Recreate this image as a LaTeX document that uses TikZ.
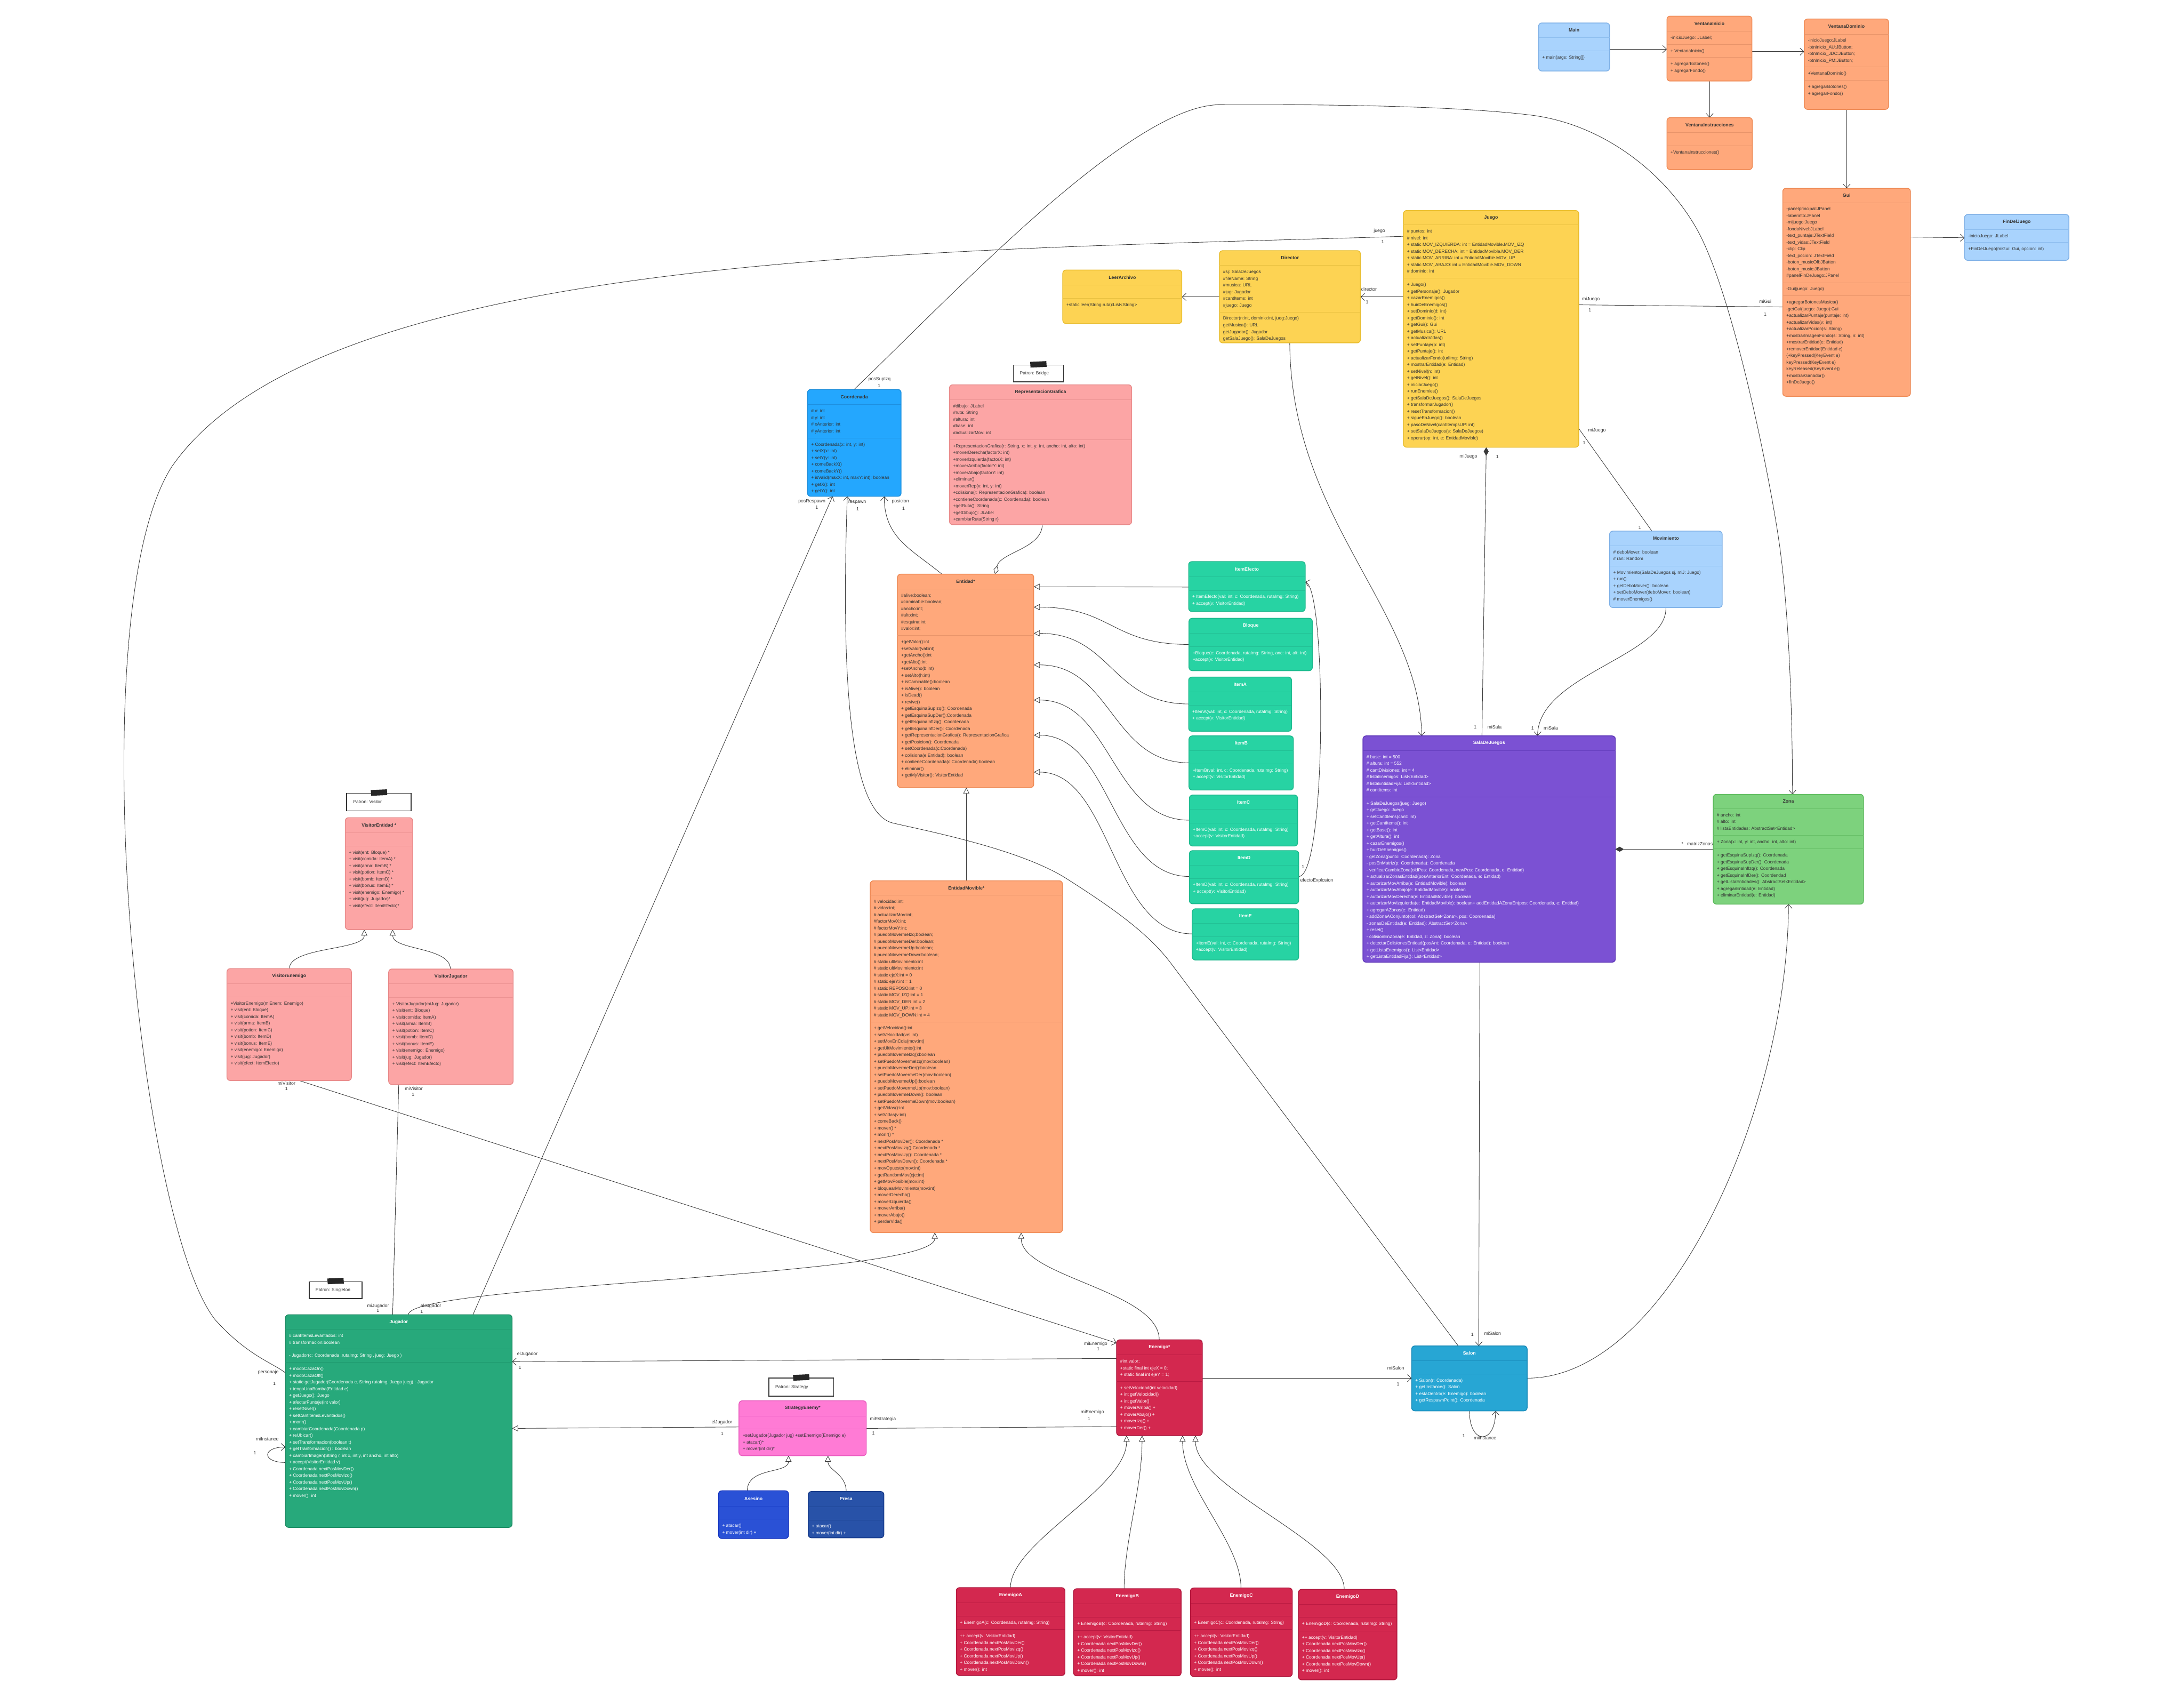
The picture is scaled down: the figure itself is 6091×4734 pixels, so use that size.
\documentclass[tikz,border=0pt]{standalone}
\usepackage{fontspec}
\setmainfont{Liberation Sans}
\usetikzlibrary{arrows.meta}
\definecolor{txtdark}{HTML}{333333}
\definecolor{lineC}{HTML}{3A3A3A}
\definecolor{lbF}{HTML}{A9D3FD}\definecolor{lbD}{HTML}{7EB0E6}\definecolor{lbS}{HTML}{8DBDEE}
\definecolor{orF}{HTML}{FFA87B}\definecolor{orD}{HTML}{EE8A55}\definecolor{orS}{HTML}{E8946A}
\definecolor{yeF}{HTML}{FDD353}\definecolor{yeD}{HTML}{E9BD2E}\definecolor{yeS}{HTML}{E8C040}
\definecolor{coF}{HTML}{24A7FE}\definecolor{coD}{HTML}{1D8FDC}\definecolor{coS}{HTML}{1E90E0}
\definecolor{piF}{HTML}{FCA5A5}\definecolor{piD}{HTML}{E88A8A}\definecolor{piS}{HTML}{EC9393}
\definecolor{grF}{HTML}{27D3A3}\definecolor{grD}{HTML}{1DB98D}\definecolor{grS}{HTML}{22C095}
\definecolor{puF}{HTML}{7B51D3}\definecolor{puD}{HTML}{5E36B8}\definecolor{puS}{HTML}{6740C0}
\definecolor{zoF}{HTML}{7DD27D}\definecolor{zoD}{HTML}{5DBA5D}\definecolor{zoS}{HTML}{67C067}
\definecolor{juF}{HTML}{27A97B}\definecolor{juD}{HTML}{1D8C64}\definecolor{juS}{HTML}{1F9A6E}
\definecolor{enF}{HTML}{D3284F}\definecolor{enD}{HTML}{B0163C}\definecolor{enS}{HTML}{BA1A42}
\definecolor{stF}{HTML}{FF7BD5}\definecolor{stD}{HTML}{E95DBF}\definecolor{stS}{HTML}{EE66C6}
\definecolor{asF}{HTML}{2A51D6}\definecolor{asD}{HTML}{1434C0}\definecolor{asS}{HTML}{1F44CC}
\definecolor{prF}{HTML}{2852A8}\definecolor{prD}{HTML}{173A88}\definecolor{prS}{HTML}{1D4493}
\definecolor{saF}{HTML}{27A6D4}\definecolor{saD}{HTML}{1689B8}\definecolor{saS}{HTML}{1C90C0}
\definecolor{noteD}{HTML}{333333}
\pgfdeclarelayer{bg}
\pgfdeclarelayer{paper}
\pgfsetlayers{paper,bg,main}
\tikzset{
  every node/.style={font=\fontsize{12.5}{18.6}\selectfont, text=txtdark},
  box/.style={rounded corners=9, line width=2.2, outer sep=0, inner sep=0},
  bLb/.style={box, fill=lbF, draw=lbD}, sLb/.style={draw=lbS, line width=1.1},
  bOr/.style={box, fill=orF, draw=orD}, sOr/.style={draw=orS, line width=1.1},
  bYe/.style={box, fill=yeF, draw=yeD}, sYe/.style={draw=yeS, line width=1.1},
  bCo/.style={box, fill=coF, draw=coD}, sCo/.style={draw=coS, line width=1.1},
  bPi/.style={box, fill=piF, draw=piD}, sPi/.style={draw=piS, line width=1.1},
  bGr/.style={box, fill=grF, draw=grD}, sGr/.style={draw=grS, line width=1.1},
  bPu/.style={box, fill=puF, draw=puD}, sPu/.style={draw=puS, line width=1.1},
  bZo/.style={box, fill=zoF, draw=zoD}, sZo/.style={draw=zoS, line width=1.1},
  bJu/.style={box, fill=juF, draw=juD}, sJu/.style={draw=juS, line width=1.1},
  bEn/.style={box, fill=enF, draw=enD}, sEn/.style={draw=enS, line width=1.1},
  bSt/.style={box, fill=stF, draw=stD}, sSt/.style={draw=stS, line width=1.1},
  bAs/.style={box, fill=asF, draw=asD}, sAs/.style={draw=asS, line width=1.1},
  bPr/.style={box, fill=prF, draw=prD}, sPr/.style={draw=prS, line width=1.1},
  bSa/.style={box, fill=saF, draw=saD}, sSa/.style={draw=saS, line width=1.1},
  conn/.style={draw=lineC, line width=1.3},
  oa/.style={-{Straight Barb[length=11,width=20,line width=1.3]}},
  oas/.style={{Straight Barb[length=11,width=20,line width=1.3]}-},
  tri/.style={-{Triangle[open,fill=white,length=17,width=17,line width=1.3]}},
  agg/.style={{Diamond[open,fill=white,length=24,width=14,line width=1.3]}-},
  comp/.style={{Diamond[length=24,width=14]}-},
  lbl/.style={font=\fontsize{13}{15}\selectfont, text=txtdark, inner sep=0},
  notebox/.style={draw=noteD, line width=2.5, fill=white, outer sep=0, inner sep=0},
}
\newcommand{\UC}[6]{\node[#6, minimum width={#4-#2}, minimum height={#5-#3}] (#1) at ({(#2+#4)/2},{(#3+#5)/2}) {};}
\newcommand{\US}[4]{\draw[#4] (#1,#3) -- (#2,#3);}
\newcommand{\UT}[6]{\node[font=\fontsize{13}{15}\selectfont\bfseries, text=#6, inner sep=0] at ({(#1+#2)/2},{(#3+#4)/2}) {#5};}
\newcommand{\UL}[4]{\node[anchor=north west, inner sep=0, align=left, text=#3] at ({#1+10},{#2+9}) {\strut #4};}
\newcommand{\NOTE}[6]{% id x1 y1 x2 y2 text
  \node[notebox, minimum width={#4-#2}, minimum height={#5-#3}] (#1) at ({(#2+#4)/2},{(#3+#5)/2}) {};
  \fill[black!85] ({(#2+#4)/2-23},{#3-9}) -- ({(#2+#4)/2+22},{#3-11}) -- ({(#2+#4)/2+23},{#3+5}) -- ({(#2+#4)/2-22},{#3+7}) -- cycle;
  \node[anchor=west, inner sep=0] at ({#2+18},{(#3+#5)/2}) {#6};}
\begin{document}
\begin{tikzpicture}[x=1pt,y=-1pt]
\useasboundingbox (0,0) rectangle (6091,4734);
\begin{pgfonlayer}{paper}
\fill[white] (0,0) rectangle (6091,4734);
\end{pgfonlayer}

% ---------------- Main
\UC{main}{4291}{64}{4489}{198}{bLb}
\US{4291}{4489}{105}{sLb}\US{4291}{4489}{142}{sLb}
\UT{4291}{4489}{64}{105}{Main}{txtdark}
\UL{4291}{142}{txtdark}{+ main(args: String[])}

% ---------------- VentanaInicio
\UC{vi}{4649}{45}{4886}{226}{bOr}
\US{4649}{4886}{87}{sOr}\US{4649}{4886}{124}{sOr}\US{4649}{4886}{160}{sOr}
\UT{4649}{4886}{45}{87}{VentanaInicio}{txtdark}
\UL{4649}{87}{txtdark}{-inicioJuego: JLabel;}
\UL{4649}{124}{txtdark}{+ VentanaInicio()}
\UL{4649}{160}{txtdark}{+ agregarBotones()\\+ agregarFondo()}

% ---------------- VentanaDominio
\UC{vd}{5032}{53}{5267}{305}{bOr}
\US{5032}{5267}{95}{sOr}\US{5032}{5267}{187}{sOr}\US{5032}{5267}{224}{sOr}
\UT{5032}{5267}{53}{95}{VentanaDominio}{txtdark}
\UL{5032}{95}{txtdark}{-inicioJuego:JLabel\\-btnInicio\_AU:JButton;\\-btnInicio\_JDC:JButton;\\-btnInicio\_PM:JButton;}
\UL{5032}{187}{txtdark}{+VentanaDominio()}
\UL{5032}{224}{txtdark}{+ agregarBotones()\\+ agregarFondo()}

% ---------------- VentanaInstrucciones
\UC{vins}{4649}{328}{4887}{473}{bOr}
\US{4649}{4887}{370}{sOr}\US{4649}{4887}{407}{sOr}
\UT{4649}{4887}{328}{370}{VentanaInstrucciones}{txtdark}
\UL{4649}{407}{txtdark}{+VentanaInstrucciones()}

% ---------------- Gui
\UC{gui}{4972}{525}{5328}{1105}{bOr}
\US{4972}{5328}{565}{sOr}\US{4972}{5328}{788}{sOr}\US{4972}{5328}{825}{sOr}
\UT{4972}{5328}{525}{565}{Gui}{txtdark}
\UL{4972}{565}{txtdark}{-panelprincipal:JPanel\\-laberinto:JPanel\\-mijuego:Juego\\-fondoNivel:JLabel\\-text\_puntaje:JTextField\\-text\_vidas:JTextField\\-clip: Clip\\-text\_pocion: JTextField\\-boton\_musicOff:JButton\\-boton\_music:JButton\\\#panelFinDeJuego:JPanel}
\UL{4972}{788}{txtdark}{-Gui(juego: Juego)}
\UL{4972}{825}{txtdark}{+agregarBotonesMusica()\\-getGui(juego: Juego):Gui\\+actualizarPuntaje(puntaje: int)\\+actualizarVidas(v: int)\\+actualizarPocion(s: String)\\+mostrarImagenFondo(s: String, n: int)\\+mostrarEntidad(e: Entidad)\\+removerEntidad(Entidad e)\\\{+keyPressed(KeyEvent e)\\keyPressed(KeyEvent e)\\keyReleased(KeyEvent e)\}\\+mostrarGanador()\\+finDeJuego()}

% ---------------- FinDelJuego
\UC{fin}{5479}{598}{5770}{726}{bLb}
\US{5479}{5770}{640}{sLb}\US{5479}{5770}{676}{sLb}
\UT{5479}{5770}{598}{640}{FinDelJuego}{txtdark}
\UL{5479}{640}{txtdark}{-inicioJuego: JLabel}
\UL{5479}{676}{txtdark}{+FinDelJuego(miGui: Gui, opcion: int)}

% ---------------- Juego
\UC{juego}{3914}{587}{4403}{1247}{bYe}
\US{3914}{4403}{627}{sYe}\US{3914}{4403}{776}{sYe}
\UT{3914}{4403}{587}{627}{Juego}{txtdark}
\UL{3914}{627}{txtdark}{\# puntos: int\\\# nivel: int\\+ static MOV\_IZQUIERDA: int = EntidadMovible.MOV\_IZQ\\+ static MOV\_DERECHA: int = EntidadMovible.MOV\_DER\\+ static MOV\_ARRIBA: int = EntidadMovible.MOV\_UP\\+ static MOV\_ABAJO: int = EntidadMovible.MOV\_DOWN\\\# dominio: int}
\UL{3914}{776}{txtdark}{+ Juego()\\+ getPersonaje(): Jugador\\+ cazarEnemigos()\\+ huirDeEnemigos()\\+ setDominio(d: int)\\+ getDominio(): int\\+ getGui(): Gui\\+ getMusica(): URL\\+ actualizoVidas()\\+ setPuntaje(p: int)\\+ getPuntaje(): int\\+ actualizarFondo(urlImg: String)\\+ mostrarEntidad(e: Entidad)\\+ setNivel(n: int)\\+ getNivel(): int\\+ iniciarJuego()\\+ runEnemies()\\+ getSalaDeJuegos(): SalaDeJuegos\\+ transformarJugador()\\+ resetTransformacion()\\+ sigueEnJuego(): boolean\\+ pasoDeNivel(cantItempsUP: int)\\+ setSalaDeJuegos(s: SalaDeJuegos)\\+ operar(op: int, e: EntidadMovible)}

% ---------------- Director
\UC{director}{3401}{699}{3794}{956}{bYe}
\US{3401}{3794}{740}{sYe}\US{3401}{3794}{870}{sYe}
\UT{3401}{3794}{699}{740}{Director}{txtdark}
\UL{3401}{740}{txtdark}{\#sj: SalaDeJuegos\\\#fileName: String\\\#musica: URL\\\#jug: Jugador\\\#cantItems: int\\\#juego: Juego}
\UL{3401}{870}{txtdark}{Director(n:int, dominio:int, jueg:Juego)\\getMusica(): URL\\getJugador(): Jugador\\getSalaJuego(): SalaDeJuegos}

% ---------------- LeerArchivo
\UC{leer}{2964}{753}{3296}{902}{bYe}
\US{2964}{3296}{795}{sYe}\US{2964}{3296}{832}{sYe}
\UT{2964}{3296}{753}{795}{LeerArchivo}{txtdark}
\UL{2964}{832}{txtdark}{+static leer(String ruta):List<String>}

% ---------------- Coordenada
\UC{coord}{2252}{1086}{2513}{1384}{bCo}
\US{2252}{2513}{1128}{sCo}\US{2252}{2513}{1221}{sCo}
\UT{2252}{2513}{1086}{1128}{Coordenada}{txtdark}
\UL{2252}{1128}{txtdark}{\# x: int\\\# y: int\\\# xAnterior: int\\\# yAnterior: int}
\UL{2252}{1221}{txtdark}{+ Coordenada(x: int, y: int)\\+ setX(x: int)\\+ setY(y: int)\\+ comeBackX()\\+ comeBackY()\\+ isValid(maxX: int, maxY: int): boolean\\+ getX(): int\\+ getY(): int}

% ---------------- RepresentacionGrafica
\UC{rep}{2648}{1073}{3156}{1463}{bPi}
\US{2648}{3156}{1114}{sPi}\US{2648}{3156}{1226}{sPi}
\UT{2648}{3156}{1073}{1114}{RepresentacionGrafica}{txtdark}
\UL{2648}{1114}{txtdark}{\#dibujo: JLabel\\\#ruta: String\\\#altura: int\\\#base: int\\\#actualizarMov: int}
\UL{2648}{1226}{txtdark}{+RepresentacionGrafica(r: String, x: int, y: int, ancho: int, alto: int)\\+moverDerecha(factorX: int)\\+moverIzquierda(factorX: int)\\+moverArriba(factorY: int)\\+moverAbajo(factorY: int)\\+eliminar()\\+moverRep(x: int, y: int)\\+colisiona(r: RepresentacionGrafica): boolean\\+contieneCoordenada(c: Coordenada): boolean\\+getRuta(): String\\+getDibujo(): JLabel\\+cambiarRuta(String r)}
\NOTE{nbridge}{2826}{1018}{2966}{1065}{Patron: Bridge}

% ---------------- Entidad
\UC{entidad}{2503}{1601}{2883}{2196}{bOr}
\US{2503}{2883}{1642}{sOr}\US{2503}{2883}{1772}{sOr}
\UT{2503}{2883}{1601}{1642}{Entidad*}{txtdark}
\UL{2503}{1642}{txtdark}{\#alive:boolean;\\\#caminable:boolean;\\\#ancho:int;\\\#alto:int;\\\#esquina:int;\\\#valor:int;}
\UL{2503}{1772}{txtdark}{+getValor():int\\+setValor(val:int)\\+getAncho():int\\+getAlto():int\\+setAncho(b:int)\\+ setAlto(h:int)\\+ isCaminable():boolean\\+ isAlive(): boolean\\+ isDead()\\+ revive()\\+ getEsquinaSupIzq(): Coordenada\\+ getEsquinaSupDer():Coordenada\\+ getEsquinaInfIzq(): Coordenada\\+ getEsquinaInfDer(): Coordenada\\+ getRepresentacionGrafica(): RepresentacionGrafica\\+ getPosicion(): Coordenada\\+ setCoordenada(c:Coordenada)\\+ colisiona(e:Entidad): boolean\\+ contieneCoordenada(c:Coordenada):boolean\\+ eliminar()\\+ getMyVisitor(): VisitorEntidad}

% ---------------- Items
\UC{itemEf}{3315}{1566}{3640}{1705}{bGr}
\US{3315}{3640}{1608}{sGr}\US{3315}{3640}{1646}{sGr}
\UT{3315}{3640}{1566}{1608}{ItemEfecto}{white}
\UL{3315}{1646}{white}{+ ItemEfecto(val: int, c: Coordenada, rutaImg: String)\\+ accept(v: VisitorEntidad)}

\UC{bloque}{3316}{1724}{3660}{1870}{bGr}
\US{3316}{3660}{1765}{sGr}\US{3316}{3660}{1803}{sGr}
\UT{3316}{3660}{1724}{1765}{Bloque}{white}
\UL{3316}{1803}{white}{+Bloque(c: Coordenada, rutaImg: String, anc: int, alt: int)\\+accept(v: VisitorEntidad)}

\UC{itemA}{3315}{1888}{3602}{2039}{bGr}
\US{3315}{3602}{1929}{sGr}\US{3315}{3602}{1966}{sGr}
\UT{3315}{3602}{1888}{1929}{ItemA}{white}
\UL{3315}{1966}{white}{+ItemA(val: int, c: Coordenada, rutaImg: String)\\+ accept(v: VisitorEntidad)}

\UC{itemB}{3316}{2052}{3607}{2203}{bGr}
\US{3316}{3607}{2093}{sGr}\US{3316}{3607}{2130}{sGr}
\UT{3316}{3607}{2052}{2093}{ItemB}{white}
\UL{3316}{2130}{white}{+ItemB(val: int, c: Coordenada, rutaImg: String)\\+ accept(v: VisitorEntidad)}

\UC{itemC}{3317}{2217}{3619}{2359}{bGr}
\US{3317}{3619}{2257}{sGr}\US{3317}{3619}{2295}{sGr}
\UT{3317}{3619}{2217}{2257}{ItemC}{white}
\UL{3317}{2295}{white}{+ItemC(val: int, c: Coordenada, rutaImg: String)\\+accept(v: VisitorEntidad)}

\UC{itemD}{3317}{2372}{3622}{2520}{bGr}
\US{3317}{3622}{2412}{sGr}\US{3317}{3622}{2449}{sGr}
\UT{3317}{3622}{2372}{2412}{ItemD}{white}
\UL{3317}{2449}{white}{+ItemD(val: int, c: Coordenada, rutaImg: String)\\+ accept(v: VisitorEntidad)}

\UC{itemE}{3325}{2534}{3622}{2677}{bGr}
\US{3325}{3622}{2575}{sGr}\US{3325}{3622}{2612}{sGr}
\UT{3325}{3622}{2534}{2575}{ItemE}{white}
\UL{3325}{2612}{white}{+ItemE(val: int, c: Coordenada, rutaImg: String)\\+accept(v: VisitorEntidad)}

% ---------------- EntidadMovible
\UC{entMov}{2427}{2456}{2963}{3437}{bOr}
\US{2427}{2963}{2496}{sOr}\US{2427}{2963}{2849}{sOr}
\UT{2427}{2963}{2456}{2496}{EntidadMovible*}{txtdark}
\UL{2427}{2496}{txtdark}{\# velocidad:int;\\\# vidas:int;\\\# actualizarMov:int;\\\#factorMovX:int;\\\# factorMovY:int;\\\# puedoMovermeIzq:boolean;\\\# puedoMovermeDer:boolean;\\\# puedoMovermeUp:boolean;\\\# puedoMovermeDown:boolean;\\\# static ultMovimiento:int\\\# static ultMovimiento:int\\\# static ejeX:int = 0\\\# static ejeY:int = 1\\\# static REPOSO:int = 0\\\# static MOV\_IZQ:int = 1\\\# static MOV\_DER:int = 2\\\# static MOV\_UP:int = 3\\\# static MOV\_DOWN:int = 4}
\UL{2427}{2849}{txtdark}{+ getVelocidad():int\\+ setVelocidad(vel:int)\\+ setMovEnCola(mov:int)\\+ getUltMovimiento():int\\+ puedoMovermeIzq():boolean\\+ setPuedoMovermeIzq(mov:boolean)\\+ puedoMovermeDer():boolean\\+ setPuedoMovermeDer(mov:boolean)\\+ puedoMovermeUp():boolean\\+ setPuedoMovermeUp(mov:boolean)\\+ puedoMovermeDown(): boolean\\+ setPuedoMovermeDown(mov:boolean)\\+ getVidas():int\\+ setVidas(v:int)\\+ comeBack()\\+ mover() *\\+ morir() *\\+ nextPosMovDer(): Coordenada *\\+ nextPosMovIzq():Coordenada *\\+ nextPosMovUp(): Coordenada *\\+ nextPosMovDown(): Coordenada *\\+ movOpuesto(mov:int)\\+ getRandomMov(eje:int)\\+ getMovPosible(mov:int)\\+ bloquearMovimiento(mov:int)\\+ moverDerecha()\\+ moverIzquierda()\\+ moverArriba()\\+ moverAbajo()\\+ perderVida()}

% ---------------- SalaDeJuegos
\UC{sala}{3801}{2052}{4505}{2683}{bPu}
\US{3801}{4505}{2093}{sPu}\US{3801}{4505}{2222}{sPu}
\UT{3801}{4505}{2052}{2093}{SalaDeJuegos}{white}
\UL{3801}{2093}{white}{\# base: int = 500\\\# altura: int = 552\\\# cantDivisiones: int = 4\\\# listaEnemigos: List<Entidad>\\\# listaEntidadFija: List<Entidad>\\\# cantItems: int}
\UL{3801}{2222}{white}{+ SalaDeJuegos(jueg: Juego)\\+ getJuego: Juego\\+ setCantItems(cant: int)\\+ getCantItems(): int\\+ getBase(): int\\+ getAltura(): int\\+ cazarEnemigos()\\+ huirDeEnemigos()\\- getZona(punto: Coordenada): Zona\\- posEnMatriz(p: Coordenada): Coordenada\\- verificarCambioZona(oldPos: Coordenada, newPos: Coordenada, e: Entidad)\\+ actualizarZonasEntidad(posAnteriorEnt: Coordenada, e: Entidad)\\+ autorizarMovArriba(e: EntidadMovible): boolean\\+ autorizarMovAbajo(e: EntidadMovible): boolean\\+ autorizarMovDerecha(e: EntidadMovible): boolean\\+ autorizarMovIzquierda(e: EntidadMovible): boolean+ addEntidadAZonaEn(pos: Coordenada, e: Entidad)\\+ agregarAZonas(e: Entidad)\\- addZonaAConjunto(col: AbstractSet<Zona>, pos: Coordenada)\\- zonasDeEntidad(e: Entidad): AbstractSet<Zona>\\+ reset()\\- colisionEnZona(e: Entidad, z: Zona): boolean\\+ detectarColisionesEntidad(posAnt: Coordenada, e: Entidad): boolean\\+ getListaEnemigos(): List<Entidad>\\+ getListaEntidadFija(): List<Entidad>}

% ---------------- Movimiento
\UC{mov}{4489}{1481}{4803}{1694}{bLb}
\US{4489}{4803}{1522}{sLb}\US{4489}{4803}{1578}{sLb}
\UT{4489}{4803}{1481}{1522}{Movimiento}{txtdark}
\UL{4489}{1522}{txtdark}{\# deboMover: boolean\\\# ran: Random}
\UL{4489}{1578}{txtdark}{+ Movimiento(SalaDeJuegos sj, miJ: Juego)\\+ run()\\+ getDeboMover(): boolean\\+ setDeboMover(deboMover: boolean)\\\# moverEnemigos()}

% ---------------- Zona
\UC{zona}{4778}{2215}{5197}{2521}{bZo}
\US{4778}{5197}{2255}{sZo}\US{4778}{5197}{2329}{sZo}\US{4778}{5197}{2367}{sZo}
\UT{4778}{5197}{2215}{2255}{Zona}{txtdark}
\UL{4778}{2255}{txtdark}{\# ancho: int\\\# alto: int\\\# listaEntidades: AbstractSet<Entidad>}
\UL{4778}{2329}{txtdark}{+ Zona(x: int, y: int, ancho: int, alto: int)}
\UL{4778}{2367}{txtdark}{+ getEsquinaSupIzq(): Coordenada\\+ getEsquinaSupDer(): Coordenada\\+ getEsquinaInfIzq(): Coordenada\\+ getEsquinaInfDer(): Coordendad\\+ getListaEntidades(): AbstractSet<Entidad>\\+ agregarEntidad(e: Entidad)\\+ eliminarEntidad(e: Entidad)}

% ---------------- Visitors
\NOTE{nvisitor}{967}{2212}{1147}{2261}{Patron: Visitor}
\UC{vEnt}{963}{2280}{1151}{2592}{bPi}
\US{963}{1151}{2322}{sPi}\US{963}{1151}{2359}{sPi}
\UT{963}{1151}{2280}{2322}{VisitorEntidad *}{txtdark}
\UL{963}{2359}{txtdark}{+ visit(ent: Bloque) *\\+ visit(comida: ItemA) *\\+ visit(arma: ItemB) *\\+ visit(potion: ItemC) *\\+ visit(bomb: ItemD) *\\+ visit(bonus: ItemE) *\\+ visit(enemigo: Enemigo) *\\+ visit(jug: Jugador)*\\+ visit(efect: ItemEfecto)*}

\UC{vEn}{633}{2701}{980}{3013}{bPi}
\US{633}{980}{2742}{sPi}\US{633}{980}{2780}{sPi}
\UT{633}{980}{2701}{2742}{VisitorEnemigo}{txtdark}
\UL{633}{2780}{txtdark}{+VisitorEnemigo(miEnem: Enemigo)\\+ visit(ent: Bloque)\\+ visit(comida: ItemA)\\+ visit(arma: ItemB)\\+ visit(potion: ItemC)\\+ visit(bomb: ItemD)\\+ visit(bonus: ItemE)\\+ visit(enemigo: Enemigo)\\+ visit(jug: Jugador)\\+ visit(efect: ItemEfecto)}

\UC{vJu}{1084}{2702}{1431}{3024}{bPi}
\US{1084}{1431}{2743}{sPi}\US{1084}{1431}{2781}{sPi}
\UT{1084}{1431}{2702}{2743}{VisitorJugador}{txtdark}
\UL{1084}{2781}{txtdark}{+ VisitorJugador(miJug: Jugador)\\+ visit(ent: Bloque)\\+ visit(comida: ItemA)\\+ visit(arma: ItemB)\\+ visit(potion: ItemC)\\+ visit(bomb: ItemD)\\+ visit(bonus: ItemE)\\+ visit(enemigo: Enemigo)\\+ visit(jug: Jugador)\\+ visit(efect: ItemEfecto)}

% ---------------- Jugador
\NOTE{nsingle}{862}{3574}{1010}{3621}{Patron: Singleton}
\UC{jugador}{796}{3666}{1428}{4259}{bJu}
\US{796}{1428}{3707}{sJu}\US{796}{1428}{3762}{sJu}\US{796}{1428}{3799}{sJu}
\UT{796}{1428}{3666}{3707}{Jugador}{white}
\UL{796}{3707}{white}{\# cantItemsLevantados: int\\\# transformacion:boolean}
\UL{796}{3762}{white}{- Jugador(c: Coordenada ,rutaImg: String , jueg: Juego )}
\UL{796}{3799}{white}{+ modoCazaOn()\\+ modoCazaOff()\\+ static getJugador(Coordenada c, String rutaImg, Juego jueg) : Jugador\\+ tengoUnaBomba(Entidad e)\\+ getJuego(): Juego\\+ afectarPuntaje(int valor)\\+ resetNivel()\\+ setCantItemsLevantados()\\+ morir()\\+ cambiarCoordenada(Coordenada p)\\+ reUbicar()\\+ setTransformacion(boolean t)\\+ getTranformacion() : boolean\\+ cambiarImagen(String r, int x, int y, int ancho, int alto)\\+ accept(VisitorEntidad v)\\+ Coordenada nextPosMovDer()\\+ Coordenada nextPosMovIzq()\\+ Coordenada nextPosMovUp()\\+ Coordenada nextPosMovDown()\\+ mover(): int}

% ---------------- Enemigo
\UC{enemigo}{3114}{3736}{3353}{4003}{bEn}
\US{3114}{3353}{3778}{sEn}\US{3114}{3353}{3852}{sEn}
\UT{3114}{3353}{3736}{3778}{Enemigo*}{white}
\UL{3114}{3778}{white}{\#int valor;\\+static final int ejeX = 0;\\+ static final int ejeY = 1;}
\UL{3114}{3852}{white}{+ setVelocidad(int velocidad)\\+ int getVelocidad()\\+ int getValor()\\+ moverArriba() +\\+ moverAbajo() +\\+ moverIzq() +\\+ moverDer() +}

% ---------------- Strategy
\NOTE{nstrat}{2144}{3843}{2325}{3893}{Patron: Strategy}
\UC{strat}{2061}{3906}{2416}{4059}{bSt}
\US{2061}{2416}{3948}{sSt}\US{2061}{2416}{3985}{sSt}
\UT{2061}{2416}{3906}{3948}{StrategyEnemy*}{txtdark}
\UL{2061}{3985}{txtdark}{+setJugador(Jugador jug) +setEnemigo(Enemigo e)\\+ atacar()*\\+ mover(int dir)*}

\UC{ases}{2004}{4157}{2199}{4290}{bAs}
\US{2004}{2199}{4200}{sAs}\US{2004}{2199}{4236}{sAs}
\UT{2004}{2199}{4157}{4200}{Asesino}{white}
\UL{2004}{4236}{white}{+ atacar()\\+ mover(int dir) +}

\UC{presa}{2254}{4159}{2465}{4288}{bPr}
\US{2254}{2465}{4201}{sPr}\US{2254}{2465}{4238}{sPr}
\UT{2254}{2465}{4159}{4201}{Presa}{white}
\UL{2254}{4238}{white}{+ atacar()\\+ mover(int dir) +}

% ---------------- Salon
\UC{salon}{3937}{3753}{4259}{3934}{bSa}
\US{3937}{4259}{3794}{sSa}\US{3937}{4259}{3831}{sSa}
\UT{3937}{4259}{3753}{3794}{Salon}{white}
\UL{3937}{3831}{white}{+ Salon(r: Coordenada)\\+ getInstance(): Salon\\+ estaDentro(e: Enemigo): boolean\\+ getRespawnPoint(): Coordenada}

% ---------------- EnemigoA-D
\UC{eA}{2667}{4427}{2970}{4672}{bEn}
\US{2667}{2970}{4469}{sEn}\US{2667}{2970}{4507}{sEn}\US{2667}{2970}{4544}{sEn}
\UT{2667}{2970}{4427}{4469}{EnemigoA}{white}
\UL{2667}{4507}{white}{+ EnemigoA(c: Coordenada, rutaImg: String)}
\UL{2667}{4544}{white}{++ accept(v: VisitorEntidad)\\+ Coordenada nextPosMovDer()\\+ Coordenada nextPosMovIzq()\\+ Coordenada nextPosMovUp()\\+ Coordenada nextPosMovDown()\\+ mover(): int}

\UC{eB}{2994}{4430}{3294}{4673}{bEn}
\US{2994}{3294}{4472}{sEn}\US{2994}{3294}{4509}{sEn}\US{2994}{3294}{4547}{sEn}
\UT{2994}{3294}{4430}{4472}{EnemigoB}{white}
\UL{2994}{4509}{white}{+ EnemigoB(c: Coordenada, rutaImg: String)}
\UL{2994}{4547}{white}{++ accept(v: VisitorEntidad)\\+ Coordenada nextPosMovDer()\\+ Coordenada nextPosMovIzq()\\+ Coordenada nextPosMovUp()\\+ Coordenada nextPosMovDown()\\+ mover(): int}

\UC{eC}{3320}{4428}{3604}{4675}{bEn}
\US{3320}{3604}{4470}{sEn}\US{3320}{3604}{4507}{sEn}\US{3320}{3604}{4544}{sEn}
\UT{3320}{3604}{4428}{4470}{EnemigoC}{white}
\UL{3320}{4507}{white}{+ EnemigoC(c: Coordenada, rutaImg: String)}
\UL{3320}{4544}{white}{++ accept(v: VisitorEntidad)\\+ Coordenada nextPosMovDer()\\+ Coordenada nextPosMovIzq()\\+ Coordenada nextPosMovUp()\\+ Coordenada nextPosMovDown()\\+ mover(): int}

\UC{eD}{3621}{4432}{3896}{4684}{bEn}
\US{3621}{3896}{4473}{sEn}\US{3621}{3896}{4510}{sEn}\US{3621}{3896}{4548}{sEn}
\UT{3621}{3896}{4432}{4473}{EnemigoD}{white}
\UL{3621}{4510}{white}{+ EnemigoD(c: Coordenada, rutaImg: String)}
\UL{3621}{4548}{white}{++ accept(v: VisitorEntidad)\\+ Coordenada nextPosMovDer()\\+ Coordenada nextPosMovIzq()\\+ Coordenada nextPosMovUp()\\+ Coordenada nextPosMovDown()\\+ mover(): int}

% ================= connectors
\begin{pgfonlayer}{bg}
\draw[conn,oa] (main.east |- 0,137) -- (vi.west |- 0,137);
\draw[conn,oa] (vi.east |- 0,144) -- (vd.west |- 0,144);
\draw[conn,oa] (vi.south -| 4768,0) -- (vins.north -| 4768,0);
\draw[conn,oa] (vd.south -| 5150,0) -- (gui.north -| 5150,0);
\draw[conn,oa] (gui.east |- 0,661) -- (fin.west |- 0,663);
\draw[conn] (juego.east |- 0,850) -- (gui.west |- 0,856);
\draw[conn,agg,-{Straight Barb[length=11,width=20,line width=1.3]}] (juego.west |- 0,828) -- (director.east |- 0,828);
\draw[conn,oa] (director.west |- 0,828) -- (leer.east |- 0,828);
\draw[conn,oa] (director.south -| 3597,0) .. controls (3600,1450) and (3960,1700) .. (sala.north -| 3965,0);
\draw[conn,comp] (juego.south -| 4145,0) -- (sala.north -| 4133,0);
\draw[conn] (juego.east |- 0,1195) -- (mov.north -| 4607,0);
\draw[conn,oa] (mov.south -| 4646,0) .. controls (4650,1830) and (4290,1880) .. (sala.north -| 4288,0);
\draw[conn,comp] (sala.east |- 0,2368) -- (zona.west |- 0,2368);
\draw[conn,oa] (sala.south -| 4127,0) -- (salon.north -| 4124,0);
\draw[conn,oa] (enemigo.east |- 0,3843) -- (salon.west |- 0,3843);
\draw[conn,oa] (salon.south -| 4098,0) .. controls (4098,4030) and (4171,4030) .. (salon.south -| 4171,0);
\draw[conn,oa] (salon.east |- 0,3843) .. controls (4650,3843) and (4985,3100) .. (zona.south -| 4988,0);
% items -> Entidad
\draw[conn,tri] (itemEf.west |- 0,1637) -- (entidad.east |- 0,1636);
\draw[conn,tri] (bloque.west |- 0,1797) .. controls (3100,1797) and (3100,1693) .. (entidad.east |- 0,1693);
\draw[conn,tri] (itemA.west |- 0,1963) .. controls (3100,1963) and (3100,1766) .. (entidad.east |- 0,1766);
\draw[conn,tri] (itemB.west |- 0,2127) .. controls (3100,2127) and (3100,1854) .. (entidad.east |- 0,1854);
\draw[conn,tri] (itemC.west |- 0,2287) .. controls (3100,2287) and (3100,1952) .. (entidad.east |- 0,1952);
\draw[conn,tri] (itemD.west |- 0,2444) .. controls (3100,2444) and (3100,2050) .. (entidad.east |- 0,2050);
\draw[conn,tri] (itemE.west |- 0,2604) .. controls (3100,2604) and (3100,2153) .. (entidad.east |- 0,2153);
\draw[conn,oa] (itemD.east |- 0,2444) .. controls (3700,2444) and (3700,1640) .. (itemEf.east |- 0,1623);
\draw[conn,tri] (entMov.north -| 2695,0) -- (entidad.south -| 2695,0);
\draw[conn,agg] (entidad.north -| 2775,0) .. controls (2790,1540) and (2905,1530) .. (rep.south -| 2907,0);
\draw[conn,oa] (entidad.north -| 2627,0) .. controls (2540,1530) and (2466,1500) .. (coord.south -| 2466,0);
\draw[conn,oas] (coord.south -| 2363,0) .. controls (2345,1900) and (2370,2265) .. (2490,2295) .. controls (2600,2320) and (2850,2370) .. (2976,2451) .. controls (3100,2530) and (3200,2600) .. (3264,2684) -- (salon.north -| 4067,0);
\draw[conn,oas] (coord.south -| 2322,0) -- (jugador.north -| 1319,0);
\draw[conn,oa] (coord.north -| 2382,0) .. controls (2650,830) and (3150,295) .. (3400,292) .. controls (3800,290) and (4100,300) .. (4270,321) .. controls (4470,346) and (4640,480) .. (4729,633) .. controls (4829,805) and (4930,1300) .. (4960,1500) .. controls (4990,1700) and (4999,2000) .. (zona.north -| 4999,0);
\draw[conn] (juego.west |- 0,659) .. controls (2600,700) and (900,700) .. (480,1300) .. controls (220,1700) and (380,3400) .. (600,3680) .. controls (690,3780) and (760,3800) .. (jugador.west |- 0,3828);
% visitors
\draw[conn,tri] (vEn.north -| 807,0) .. controls (807,2640) and (1016,2650) .. (vEnt.south -| 1016,0);
\draw[conn,tri] (vJu.north -| 1256,0) .. controls (1256,2640) and (1095,2650) .. (vEnt.south -| 1095,0);
\draw[conn,oa] (vEn.south -| 834,0) -- (enemigo.west |- 0,3745);
\draw[conn] (vJu.south -| 1112,0) -- (jugador.north -| 1095,0);
\draw[conn,oa] (enemigo.west |- 0,3788) -- (jugador.east |- 0,3797);
\draw[conn,tri] (strat.west |- 0,3979) -- (jugador.east |- 0,3983);
\draw[conn] (strat.east |- 0,3983) -- (enemigo.west |- 0,3978);
\draw[conn,tri] (ases.north -| 2084,0) .. controls (2084,4090) and (2199,4110) .. (strat.south -| 2199,0);
\draw[conn,tri] (presa.north -| 2360,0) .. controls (2360,4110) and (2309,4100) .. (strat.south -| 2309,0);
\draw[conn,tri] (eA.north -| 2818,0) .. controls (2818,4300) and (3142,4150) .. (enemigo.south -| 3142,0);
\draw[conn,tri] (eB.north -| 3135,0) .. controls (3135,4300) and (3185,4150) .. (enemigo.south -| 3185,0);
\draw[conn,tri] (eC.north -| 3461,0) .. controls (3461,4300) and (3298,4150) .. (enemigo.south -| 3298,0);
\draw[conn,tri] (eD.north -| 3749,0) .. controls (3749,4300) and (3334,4150) .. (enemigo.south -| 3334,0);
\draw[conn,tri] (enemigo.north -| 3233,0) .. controls (3233,3600) and (2848,3560) .. (entMov.south -| 2848,0);
\draw[conn,tri] (jugador.north -| 1139,0) .. controls (1139,3580) and (2607,3560) .. (entMov.south -| 2607,0);
\draw[conn,oa] (jugador.west |- 0,4078) .. controls (730,4078) and (730,4035) .. (jugador.west |- 0,4035);
\end{pgfonlayer}

% labels
\node[lbl,anchor=west] at (4412,835) {miJuego};
\node[lbl] at (4434,865) {1};
\node[lbl,anchor=west] at (4906,841) {miGui};
\node[lbl] at (4923,877) {1};
\node[lbl,anchor=west] at (3796,807) {director};
\node[lbl] at (3813,842) {1};
\node[lbl,anchor=west] at (3831,644) {juego};
\node[lbl] at (3856,674) {1};
\node[lbl,anchor=east] at (4120,1274) {miJuego};
\node[lbl] at (4176,1274) {1};
\node[lbl,anchor=east] at (4118,2028) {1};
\node[lbl,anchor=west] at (4148,2028) {miSala};
\node[lbl,anchor=east] at (4278,2030) {1};
\node[lbl,anchor=west] at (4305,2030) {miSala};
\node[lbl,anchor=west] at (4429,1200) {miJuego};
\node[lbl] at (4418,1235) {1};
\node[lbl] at (4573,1471) {1};
\node[lbl] at (4692,2353) {*};
\node[lbl,anchor=west] at (4705,2353) {matrizZonas};
\node[lbl] at (4106,3721) {1};
\node[lbl,anchor=west] at (4139,3718) {miSalon};
\node[lbl,anchor=west] at (3869,3815) {miSalon};
\node[lbl] at (3899,3859) {1};
\node[lbl] at (4082,4004) {1};
\node[lbl,anchor=west] at (4110,4009) {miInstance};
\node[lbl] at (3634,2417) {1};
\node[lbl,anchor=west] at (3626,2455) {efectoExplosion};
\node[lbl,anchor=west] at (2487,1398) {posicion};
\node[lbl] at (2520,1418) {1};
\node[lbl,anchor=west] at (2366,1401) {respawn};
\node[lbl] at (2392,1420) {1};
\node[lbl,anchor=east] at (2302,1398) {posRespawn};
\node[lbl] at (2278,1415) {1};
\node[lbl,anchor=west] at (2422,1058) {posSupIzq};
\node[lbl] at (2452,1076) {1};
\node[lbl,anchor=west] at (774,3021) {miVisitor};
\node[lbl] at (799,3036) {1};
\node[lbl,anchor=west] at (1129,3036) {miVisitor};
\node[lbl] at (1152,3052) {1};
\node[lbl,anchor=west] at (3023,3748) {miEnemigo};
\node[lbl] at (3063,3761) {1};
\node[lbl,anchor=east] at (1085,3642) {miJugador};
\node[lbl] at (1054,3655) {1};
\node[lbl,anchor=west] at (1173,3642) {elJugador};
\node[lbl] at (1176,3658) {1};
\node[lbl,anchor=west] at (1442,3776) {elJugador};
\node[lbl] at (1450,3814) {1};
\node[lbl,anchor=east] at (2042,3967) {elJugador};
\node[lbl] at (2014,3998) {1};
\node[lbl,anchor=west] at (2426,3957) {miEstrategia};
\node[lbl] at (2436,3997) {1};
\node[lbl,anchor=west] at (3014,3938) {miEnemigo};
\node[lbl] at (3037,3957) {1};
\node[lbl,anchor=east] at (777,3827) {personaje};
\node[lbl] at (765,3858) {1};
\node[lbl,anchor=east] at (777,4013) {miInstance};
\node[lbl] at (711,4052) {1};
\end{tikzpicture}
\end{document}
